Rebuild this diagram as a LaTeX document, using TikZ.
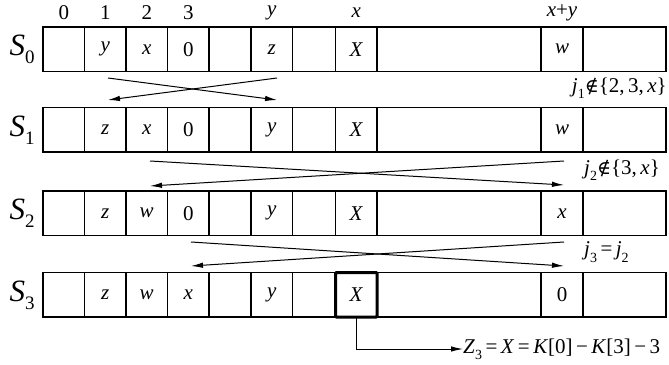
\documentclass[tikz,border=0pt]{standalone}
\usepackage{fontspec}
\setmainfont{Liberation Serif}
\newfontfamily\dvs{DejaVu Serif}
\usetikzlibrary{arrows.meta}
\newcommand{\sbx}[1]{\raisebox{-0.3em}{\fontsize{14}{14}\selectfont #1}}
\newcommand{\sbs}[1]{\raisebox{-0.25em}{\fontsize{19}{19}\selectfont #1}}
\newcommand{\nin}{{\dvs\fontsize{19}{19}\selectfont ∉}}
\begin{document}
\begin{tikzpicture}[x=1pt,y=-1pt,
  cell/.style={draw, line width=1.1pt, inner sep=0pt, outer sep=0pt, minimum height=44.5pt, anchor=north west},
  txt/.style={inner sep=0pt, font=\fontsize{21}{21}\selectfont},
  idx/.style={inner sep=0pt, font=\fontsize{21}{21}\selectfont},
  slbl/.style={inner sep=0pt, font=\fontsize{31}{31}\selectfont},
  lbl/.style={inner sep=0pt, font=\fontsize{21}{21}\selectfont},
  swap/.style={line width=1pt, -{Latex[length=12pt,width=5.5pt]}},
  thickbox/.style={draw, line width=3pt, inner sep=0pt, outer sep=0pt, minimum width=41.5pt, minimum height=44.5pt, anchor=north west, rounded corners=1pt}
]
\useasboundingbox (0,0) rectangle (669,364);
% cells
\foreach \r/\top in {0/27,1/107.5,2/191,3/272.5}{
  \foreach \a/\b [count=\c] in {43/84.5,84.5/126,126/167.5,167.5/209,209/251,251/292.5,292.5/335.5,335.5/377,377/541,541/583,583/666}{
    \node[cell, minimum width={(\b-\a)*1pt}] (r\r c\c) at (\a,\top) {};
  }
}
\node[thickbox] (Xbox) at (335.5,272.5) {};
% row labels
\node[slbl] (s0) at (22,49) {\textit{S}\sbs{0}};
\node[slbl] (s1) at (22,130) {\textit{S}\sbs{1}};
\node[slbl] (s2) at (22,213) {\textit{S}\sbs{2}};
\node[slbl] (s3) at (22,295) {\textit{S}\sbs{3}};
% indices
\node[idx] (i0) at (r0c1.center |- 0,13) {0};
\node[idx] (i1) at (r0c2.center |- 0,13) {1};
\node[idx] (i2) at (r0c3.center |- 0,13) {2};
\node[idx] (i3) at (r0c4.center |- 0,13) {3};
\node[idx] (iy) at (r0c6.center |- 0,13) {\textit{y}};
\node[idx] (ix) at (r0c8.center |- 0,13) {\textit{x}};
\node[idx] (ixy) at (r0c10.center |- 0,13) {\textit{x}+\textit{y}};
% row 0
\node[txt] (t02) at (r0c2) {\textit{y}};
\node[txt] (t03) at (r0c3) {\textit{x}};
\node[txt] (t04) at (r0c4) {0};
\node[txt] (t06) at (r0c6) {\textit{z}};
\node[txt] (t08) at (r0c8) {\textit{X}};
\node[txt] (t010) at (r0c10) {\textit{w}};
% row 1
\node[txt] (t12) at (r1c2) {\textit{z}};
\node[txt] (t13) at (r1c3) {\textit{x}};
\node[txt] (t14) at (r1c4) {0};
\node[txt] (t16) at (r1c6) {\textit{y}};
\node[txt] (t18) at (r1c8) {\textit{X}};
\node[txt] (t110) at (r1c10) {\textit{w}};
% row 2
\node[txt] (t22) at (r2c2) {\textit{z}};
\node[txt] (t23) at (r2c3) {\textit{w}};
\node[txt] (t24) at (r2c4) {0};
\node[txt] (t26) at (r2c6) {\textit{y}};
\node[txt] (t28) at (r2c8) {\textit{X}};
\node[txt] (t210) at (r2c10) {\textit{x}};
% row 3
\node[txt] (t32) at (r3c2) {\textit{z}};
\node[txt] (t33) at (r3c3) {\textit{w}};
\node[txt] (t34) at (r3c4) {\textit{x}};
\node[txt] (t36) at (r3c6) {\textit{y}};
\node[txt] (t38) at (Xbox) {\textit{X}};
\node[txt] (t310) at (r3c10) {0};
% swap arrows
\coordinate (a1s) at (108,78);  \coordinate (a1e) at (277,100);
\coordinate (b1s) at (277,78);  \coordinate (b1e) at (108,100);
\coordinate (a2s) at (150,161); \coordinate (a2e) at (564,185);
\coordinate (b2s) at (564,161); \coordinate (b2e) at (150,186);
\coordinate (a3s) at (191,242); \coordinate (a3e) at (564,266);
\coordinate (b3s) at (564,242); \coordinate (b3e) at (191,266);
\draw[swap] (a1s) -- (a1e);
\draw[swap] (b1s) -- (b1e);
\draw[swap] (a2s) -- (a2e);
\draw[swap] (b2s) -- (b2e);
\draw[swap] (a3s) -- (a3e);
\draw[swap] (b3s) -- (b3e);
% conditions
\node[lbl, anchor=east] (j1) at (667,88) {\textit{j}\sbx{1}\nin\{2,\,3,\,\textit{x}\}};
\node[lbl, anchor=west] (j2) at (584,170) {\textit{j}\sbx{2}\nin\{3,\,\textit{x}\}};
\node[lbl, anchor=west] (j3) at (584,252) {\textit{j}\sbx{3}\,=\,\textit{j}\sbx{2}};
% output
\node[lbl, anchor=west] (z3) at (463,349) {\textit{Z}\sbx{3}\,=\,\textit{X}\,=\,\textit{K}[0]\,−\,\textit{K}[3]\,−\,3};
\draw[swap] (Xbox.south) |- (z3.west);
\end{tikzpicture}
\end{document}
